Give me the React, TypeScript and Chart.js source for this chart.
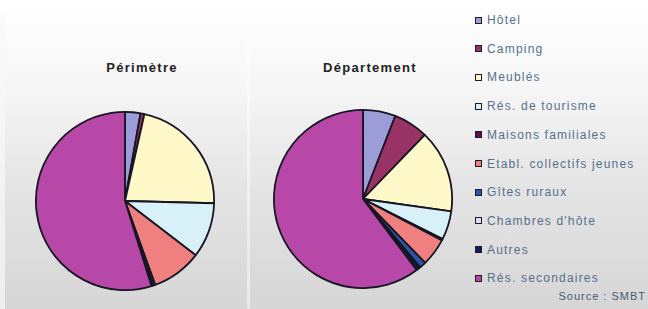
import React, { useEffect, useRef } from "react";
import { Chart, registerables } from "chart.js";

Chart.register(...registerables);

const categories = [
  "Hôtel",
  "Camping",
  "Meublés",
  "Rés. de tourisme",
  "Maisons familiales",
  "Etabl. collectifs jeunes",
  "Gîtes ruraux",
  "Chambres d'hôte",
  "Autres",
  "Rés. secondaires",
];
const perimetreValues = [2.8, 0.7, 21.9, 10.0, 0, 9.1, 0.4, 0, 0.3, 54.8];
const departementValues = [5.9, 6.3, 15.0, 5.2, 0.3, 5.0, 1.2, 0.3, 0.5, 60.3];
const sliceColors = [
  "#9c9cd8",
  "#993366",
  "#fff8c8",
  "#d8f0f8",
  "#5a1050",
  "#f08080",
  "#2a58a8",
  "#dcdcf4",
  "#102058",
  "#b848a8",
];
const chartTitles = ["Périmètre", "Département"];
const sourceText = "Source : SMBT";

function Pie({ values, left, top, size }: { values: number[]; left: number; top: number; size: number }) {
  const ref = useRef<HTMLCanvasElement | null>(null);
  useEffect(() => {
    if (!ref.current) return;
    const chart = new Chart(ref.current, {
      type: "pie",
      data: {
        labels: categories,
        datasets: [
          {
            data: values,
            backgroundColor: sliceColors,
            borderColor: "#161624",
            borderWidth: 1.8,
          },
        ],
      },
      options: {
        animation: false,
        responsive: false,
        devicePixelRatio: 1,
        layout: { padding: 0 },
        plugins: { legend: { display: false }, tooltip: { enabled: false }, title: { display: false } },
      },
    });
    return () => chart.destroy();
  }, [values]);
  return (
    <canvas
      ref={ref}
      width={size}
      height={size}
      style={{ position: "absolute", left, top, width: size, height: size }}
    />
  );
}

export default function App() {
  const legendY0 = 20;
  const legendStep = 28.7;
  return (
    <div
      style={{
        position: "fixed",
        left: 0,
        top: 0,
        width: 648,
        height: 309,
        background: "#ffffff",
        overflow: "hidden",
        fontFamily: "'Liberation Sans', Arial, sans-serif",
      }}
    >
      <div
        style={{
          position: "absolute",
          left: 0,
          top: 12,
          width: 648,
          height: 297,
          background: "linear-gradient(to bottom, #fefefe 0%, #f6f6f6 25%, #e4e4e4 60%, #d6d6d6 100%)",
        }}
      />
      <div style={{ position: "absolute", left: 0, top: 12, width: 5, height: 297, background: "rgba(250,246,246,0.7)" }} />
      <div style={{ position: "absolute", left: 247, top: 30, width: 3, height: 279, background: "rgba(255,255,255,0.45)" }} />

      <div
        style={{
          position: "absolute",
          left: 82,
          top: 60,
          width: 120,
          textAlign: "center",
          fontWeight: "bold",
          fontSize: 13,
          color: "#222222",
          letterSpacing: 1.3,
        }}
      >
        {chartTitles[0]}
      </div>
      <div
        style={{
          position: "absolute",
          left: 305,
          top: 60,
          width: 130,
          textAlign: "center",
          fontWeight: "bold",
          fontSize: 13,
          color: "#222222",
          letterSpacing: 1.3,
        }}
      >
        {chartTitles[1]}
      </div>

      <Pie values={perimetreValues} left={35} top={111} size={180} />
      <Pie values={departementValues} left={273} top={109} size={180} />

      {categories.map((c, i) => (
        <div
          key={c}
          style={{
            position: "absolute",
            left: 475,
            top: legendY0 + legendStep * i - 8,
            height: 16,
            display: "flex",
            alignItems: "center",
            whiteSpace: "nowrap",
          }}
        >
          <div
            style={{
              width: 5,
              height: 5,
              background: sliceColors[i],
              border: "1px solid #1a1a2a",
              marginRight: 5,
            }}
          />
          <span style={{ fontSize: 12, color: "#56708c", letterSpacing: 1.2 }}>{c}</span>
        </div>
      ))}
      <div
        style={{
          position: "absolute",
          right: 2,
          top: 290,
          fontSize: 11,
          color: "#4a5a6a",
          letterSpacing: 1.0,
          whiteSpace: "nowrap",
        }}
      >
        {sourceText}
      </div>
    </div>
  );
}
